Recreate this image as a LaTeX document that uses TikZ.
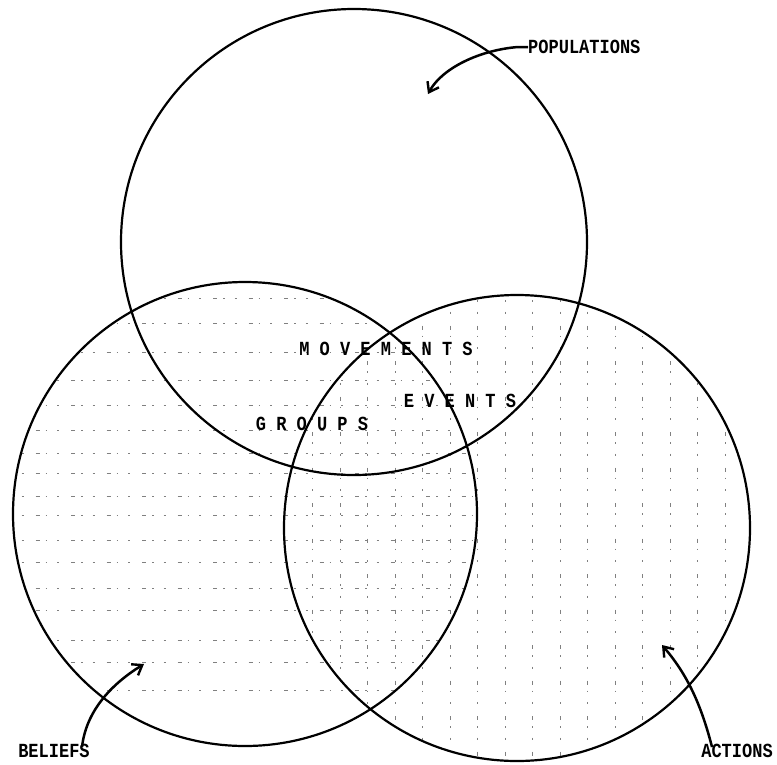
\documentclass[tikz,border=0pt]{standalone}
\usepackage{fontspec}
\newfontfamily\typew{Liberation Mono}[FakeStretch=0.85]
\usetikzlibrary{arrows.meta, calc}
\tikzset{
  ring/.style={draw=black, line width=2.2pt},
  hatch/.style={black!50, line width=0.7pt,
                dash pattern=on 4pt off 6pt on 1.5pt off 10pt on 2pt off 12pt},
  lbl/.style={font=\typew\bfseries\fontsize{20}{20}\selectfont,
              inner sep=0pt, text=black},
  arr/.style={-{Straight Barb[length=9pt, width=13pt, line width=2.4pt]},
              line width=2.5pt},
}

\begin{document}
\begin{tikzpicture}[x=1pt, y=-1pt]
    \useasboundingbox (0,0) rectangle (777,764);
    \coordinate (popc) at (354,242);
    \coordinate (belc) at (245,514);
    \coordinate (actc) at (517,528);

    % hatching
    \begin{scope}
    \clip (belc) circle[radius=232pt];
    \foreach \yy in {298,323,352,380,405,430,453,473,496,515,540,562,588,610,640,662,690}
        \draw[hatch] (0,\yy) -- (500,\yy);
    \end{scope}
    \begin{scope}
    \clip (actc) circle[radius=233pt];
    \foreach \xx in {312,340,367,395,422,450,477,505,532,560,587,615,642,670,697,725}
        \draw[hatch] (\xx,290) -- (\xx,770);
    \end{scope}

    % the three circles
    \draw[ring] (popc) circle[radius=233pt];
    \draw[ring] (belc) circle[radius=232pt];
    \draw[ring] (actc) circle[radius=233pt];

    % overlaps
    \node[lbl] (movements) at (386,349) {M O V E M E N T S};
    \node[lbl] (events) at (460,401) {E V E N T S};
    \node[lbl] (groups) at (312,424) {G R O U P S};

    % outer labels
    \node[lbl, anchor=west] (populations) at (528,47) {POPULATIONS};
    \node[lbl] (beliefs) at (54,751) {BELIEFS};
    \node[lbl] (actions) at (737,751) {ACTIONS};
    \coordinate (poptip) at (428,94);
    \coordinate (beltip) at (144,664);
    \coordinate (acttip) at (662,645);
    \draw[arr] (populations.west) -- ++(-10,0) .. controls (480,50) and (442,68) .. (poptip);
    \draw[arr] ([xshift=28pt, yshift=-3pt]beliefs.north) .. controls (86,712) and (110,685) .. (beltip);
    \draw[arr] ([xshift=-25pt, yshift=-3pt]actions.north) .. controls (700,700) and (685,672) .. (acttip);
\end{tikzpicture}
\end{document}
